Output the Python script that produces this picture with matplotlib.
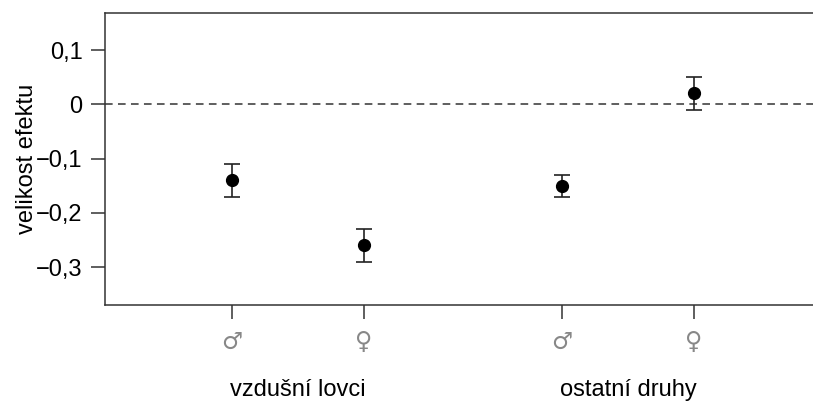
import matplotlib
matplotlib.use("Agg")
import matplotlib.pyplot as plt

# Data
pozice = [1, 2, 3.5, 4.5]
pohlavi = ["♂", "♀", "♂", "♀"]
efekt = [-0.14, -0.26, -0.15, 0.02]
dolni = [-0.17, -0.29, -0.17, -0.01]
horni = [-0.11, -0.23, -0.13, 0.05]
skupiny = ["vzdušní lovci", "ostatní druhy"]
skupiny_x = [1.5, 4.0]
y_ticks = [-0.3, -0.2, -0.1, 0, 0.1]
y_labels = ["\u22120,3", "\u22120,2", "\u22120,1", "0", "0,1"]

plt.rcParams["font.family"] = ["Liberation Sans", "DejaVu Sans"]

fig = plt.figure(figsize=(8.13, 4.04), dpi=100)
ax = fig.add_axes([0.129, 0.245, 0.871, 0.723])

chyba = [[e - d for e, d in zip(efekt, dolni)], [h - e for e, h in zip(efekt, horni)]]
ax.errorbar(pozice, efekt, yerr=chyba, fmt="o", color="black", ms=8.5,
            ecolor="#222222", elinewidth=1.2, capsize=5.5, capthick=1.2, zorder=3)
ax.axhline(0, color="#333333", lw=1.1, ls=(0, (5, 3.5)), zorder=1)

ax.set_xlim(0.04, 5.4)
ax.set_ylim(-0.370, 0.1685)

ax.set_yticks(y_ticks)
ax.set_yticklabels(y_labels, fontsize=17)
ax.set_xticks(pozice)
ax.set_xticklabels(pohlavi, fontsize=17, color="#888888", family=["DejaVu Sans"])
ax.tick_params(axis="both", length=10, width=1.1, color="#333333", direction="out")
ax.tick_params(axis="y", pad=6)
ax.tick_params(axis="x", pad=8)

ax.set_ylabel("velikost efektu", fontsize=17, labelpad=-1)

for x, s in zip(skupiny_x, skupiny):
    ax.text(x, -0.29, s, fontsize=17, ha="center", va="center",
            transform=ax.get_xaxis_transform())

ax.spines["right"].set_visible(False)
for sp in ["left", "top", "bottom"]:
    ax.spines[sp].set_linewidth(1.1)
    ax.spines[sp].set_color("#333333")

fig.savefig("out.png", dpi=100)
